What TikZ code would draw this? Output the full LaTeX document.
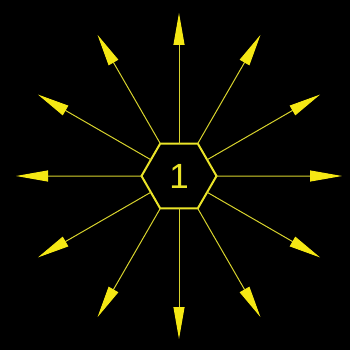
\documentclass[tikz,border=0pt]{standalone}
\usepackage{fontspec}
\setmainfont{Liberation Sans}
\usetikzlibrary{shapes.geometric,arrows.meta}
\definecolor{rayline}{RGB}{215,210,45}
\definecolor{raytip}{RGB}{245,232,20}
\definecolor{hexcol}{RGB}{235,228,40}
\tikzset{
  hexnode/.style={regular polygon, regular polygon sides=6, minimum size=75pt,
    inner sep=0pt, outer sep=0pt, draw=hexcol, line width=2pt,
    text=hexcol, font=\fontsize{35}{35}\selectfont},
  ray/.style={draw=rayline, line width=1pt,
    -{Triangle[length=32pt,width=11pt,fill=raytip,color=raytip]}}
}
\begin{document}
\begin{tikzpicture}[x=1pt,y=-1pt]
\fill[black] (0,0) rectangle (350,350);
\useasboundingbox (0,0) rectangle (350,350);
\node[hexnode] (h) at (179,176) {1};
\foreach \a in {0,30,...,330}{
  \path (h.center) ++(\a:163pt) coordinate (t\a);
  \draw[ray] (h.\a) -- (t\a);
}
\end{tikzpicture}
\end{document}
